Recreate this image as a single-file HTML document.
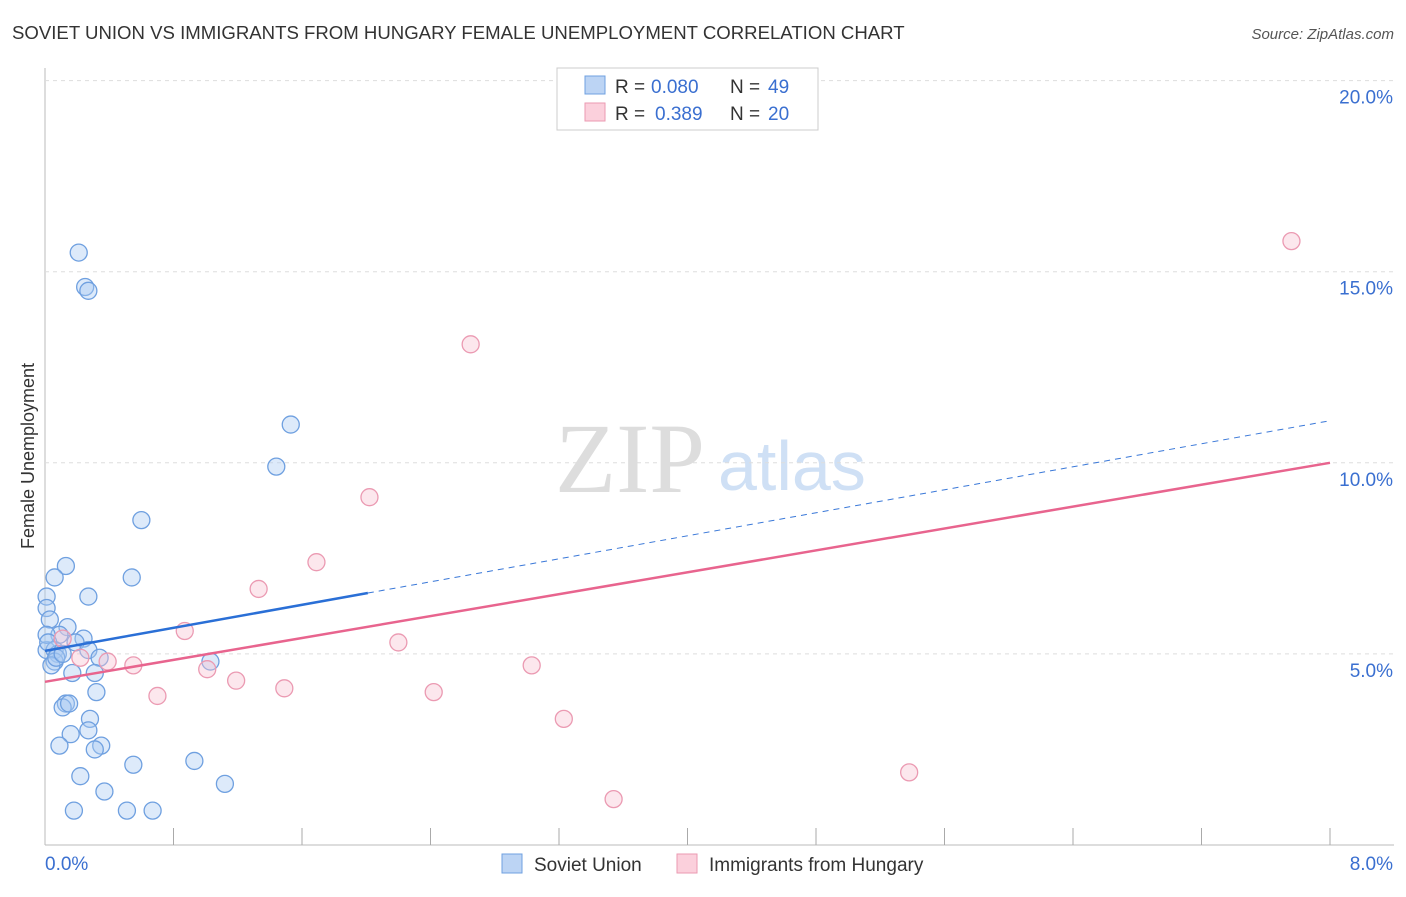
<!DOCTYPE html>
<html><head><meta charset="utf-8"><style>
body{margin:0;background:#fff;font-family:"Liberation Sans",sans-serif;}
</style></head><body>
<svg id="c" width="1406" height="892" xmlns="http://www.w3.org/2000/svg">
<text x="12" y="39" font-size="18.6" fill="#333">SOVIET UNION VS IMMIGRANTS FROM HUNGARY FEMALE UNEMPLOYMENT CORRELATION CHART</text>
<text x="1394" y="39" font-size="15" fill="#555" font-style="italic" text-anchor="end">Source: ZipAtlas.com</text>
<text x="34" y="456" font-size="18" fill="#333" text-anchor="middle" transform="rotate(-90 34 456)">Female Unemployment</text>
<text x="555" y="492" font-size="100" fill="#ddd" font-family="Liberation Serif,serif">ZIP</text>
<text x="718" y="490" font-size="70" fill="#cfe0f5">atlas</text>
<g id="grid"></g><g id="marks"></g>
<g>
<rect x="557" y="68" width="261" height="62" fill="#fff" stroke="#ccc"/>
<rect x="585" y="76" width="20" height="18" fill="#bcd4f4" stroke="#6fa0e0"/>
<rect x="585" y="103" width="20" height="18" fill="#fbd0dc" stroke="#eb9ab2"/>
<text x="615" y="93" font-size="19" fill="#333">R =</text>
<text x="651" y="93" font-size="19" fill="#3a6fd0">0.080</text>
<text x="730" y="93" font-size="19" fill="#333">N =</text>
<text x="768" y="93" font-size="19" fill="#3a6fd0">49</text>
<text x="615" y="120" font-size="19" fill="#333">R =</text>
<text x="655" y="120" font-size="19" fill="#3a6fd0">0.389</text>
<text x="730" y="120" font-size="19" fill="#333">N =</text>
<text x="768" y="120" font-size="19" fill="#3a6fd0">20</text>
</g>
<g>
<rect x="502" y="854" width="20" height="19" fill="#bcd4f4" stroke="#6fa0e0"/>
<text x="534" y="871" font-size="19" fill="#333">Soviet Union</text>
<rect x="677" y="854" width="20" height="19" fill="#fbd0dc" stroke="#eb9ab2"/>
<text x="709" y="871" font-size="19" fill="#333">Immigrants from Hungary</text>
</g>
</svg>
<script>
const xTicks=[0.8,1.6,2.4,3.2,4,4.8,5.6,6.4,7.2,8];
const yTicks=[5,10,15,20];
const sovietX=[0.21,0.25,0.27,1.53,1.44,0.6,0.54,0.13,0.06,0.27,0.01,0.01,0.03,0.14,0.09,0.24,0.19,0.01,0.06,0.08,0.27,0.34,1.03,0.06,0.04,0.17,0.31,0.32,0.13,0.11,0.15,0.28,0.27,0.16,0.09,0.35,0.31,0.55,0.93,0.22,1.12,0.37,0.18,0.51,0.67,0.01,0.02,0.07,0.11];
const sovietY=[15.5,14.6,14.5,11.0,9.9,8.5,7.0,7.3,7.0,6.5,6.5,6.2,5.9,5.7,5.5,5.4,5.3,5.1,5.1,5.0,5.1,4.9,4.8,4.8,4.7,4.5,4.5,4.0,3.7,3.6,3.7,3.3,3.0,2.9,2.6,2.6,2.5,2.1,2.2,1.8,1.6,1.4,0.9,0.9,0.9,5.5,5.3,4.9,5.0];
const hungaryX=[7.76,2.65,2.02,1.69,1.33,0.87,2.2,3.03,0.11,0.39,0.55,1.01,1.19,1.49,0.7,2.42,3.23,5.38,3.54,0.22];
const hungaryY=[15.8,13.1,9.1,7.4,6.7,5.6,5.3,4.7,5.4,4.8,4.7,4.6,4.3,4.1,3.9,4.0,3.3,1.9,1.2,4.9];
const sovietTrend=[5.08,11.1];const sovietSolidEnd=2.01;
const hungaryTrend=[4.27,10.0];
const X=v=>45+v/8*1285, Y=v=>845-v*38.22;
const NS="http://www.w3.org/2000/svg";
function mk(t,a,p){const e=document.createElementNS(NS,t);for(const k in a)e.setAttribute(k,a[k]);p.appendChild(e);return e;}
const g=document.getElementById('grid'),m=document.getElementById('marks');
let ax=mk('line',{x1:45,y1:68,x2:45,y2:845,stroke:'#bbb'},g);


let bx=mk('line',{x1:45,y1:845,x2:1394,y2:845,stroke:'#bbb'},g);


yTicks.forEach(v=>{
 let l=mk('line',{x1:45,x2:1394,y1:Y(v),y2:Y(v),stroke:'#ddd','stroke-dasharray':'4,4'},g);
 
 
 let t=mk('text',{x:1393,y:Y(v)+23,'font-size':19,fill:'#3a6fd0','text-anchor':'end'},g);t.textContent=v.toFixed(1)+'%';
 
 
});
xTicks.forEach(v=>{
 let l=mk('line',{x1:X(v),x2:X(v),y1:828,y2:845,stroke:'#aaa'},g);
 
 
});
[[0,'0.0%',45,'start'],[8,'8.0%',1393,'end']].forEach(a=>{
 let t=mk('text',{x:a[2],y:870,'font-size':19,fill:'#3a6fd0','text-anchor':a[3]},g);t.textContent=a[1];
 
 
});
sovietX.forEach((v,i)=>{let c=mk('circle',{cx:X(v),cy:Y(sovietY[i]),r:8.5,fill:'rgba(170,202,242,0.4)',stroke:'#6fa0e0','stroke-width':1.3},m);
 
 });
hungaryX.forEach((v,i)=>{let c=mk('circle',{cx:X(v),cy:Y(hungaryY[i]),r:8.5,fill:'rgba(248,195,210,0.4)',stroke:'#eb9ab2','stroke-width':1.3},m);
 
 });
const bAt=x=>sovietTrend[0]+(sovietTrend[1]-sovietTrend[0])*x/8;
let d=mk('line',{x1:X(sovietSolidEnd),y1:Y(bAt(sovietSolidEnd)),x2:X(8),y2:Y(sovietTrend[1]),stroke:'#3a78d8','stroke-width':1,'stroke-dasharray':'6,5'},m);


let s=mk('line',{x1:X(0),y1:Y(sovietTrend[0]),x2:X(sovietSolidEnd),y2:Y(bAt(sovietSolidEnd)),stroke:'#2a6fd6','stroke-width':2.5},m);


let h=mk('line',{x1:X(0),y1:Y(hungaryTrend[0]),x2:X(8),y2:Y(hungaryTrend[1]),stroke:'#e8648e','stroke-width':2.5},m);


</script>
</body></html>
